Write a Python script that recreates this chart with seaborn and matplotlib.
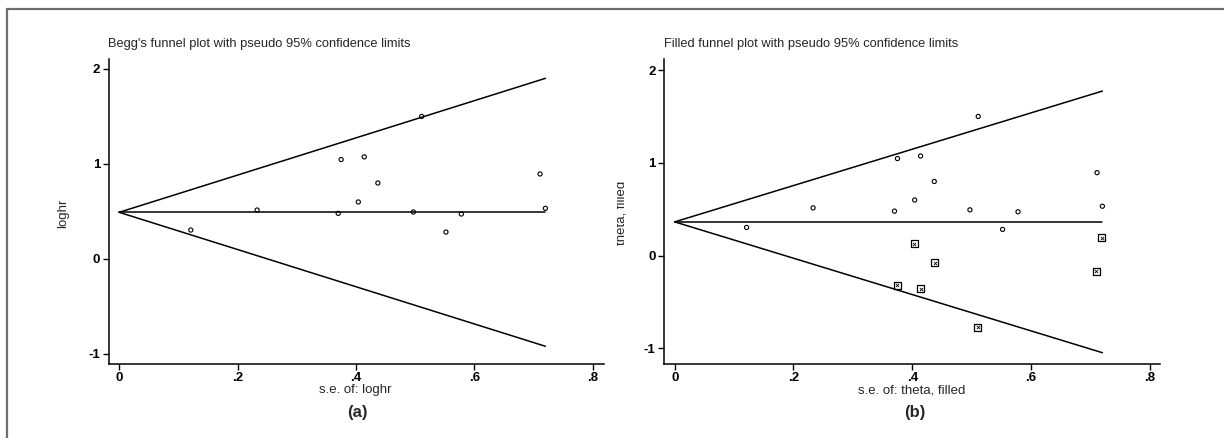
import numpy as np
import pandas as pd
import matplotlib
matplotlib.use("Agg")
import matplotlib.pyplot as plt
import seaborn as sns
from matplotlib.lines import Line2D
from matplotlib.transforms import Bbox, TransformedBbox

# --- data ---
se = [0.121, 0.233, 0.370, 0.375, 0.404, 0.414, 0.437, 0.497, 0.511, 0.552, 0.578, 0.711, 0.720]
loghr = [0.303, 0.514, 0.479, 1.046, 0.599, 1.074, 0.799, 0.493, 1.500, 0.282, 0.472, 0.894, 0.532]

# trim-and-fill imputed studies (panel b)
filled_se = [0.403, 0.438, 0.375, 0.414, 0.510, 0.710, 0.719]
filled_theta = [0.126, -0.079, -0.320, -0.356, -0.773, -0.169, 0.194]

pooled_a = 0.49
pooled_b = 0.363
se_range = [0.0, 0.72]

xticks = [0, 0.2, 0.4, 0.6, 0.8]
xtick_labels = ["0", ".2", ".4", ".6", ".8"]
yticks = [-1, 0, 1, 2]
ytick_labels = ["-1", "0", "1", "2"]

sns.set_style("ticks")
plt.rcParams['font.family'] = ['Liberation Sans', 'DejaVu Sans']

W, H = 1224, 438
fig = plt.figure(figsize=(W / 100, H / 100), dpi=100)


def px_box(x0, x1, ytop, ybot):
    return [x0 / W, (H - ybot) / H, (x1 - x0) / W, (ybot - ytop) / H]


def funnel(ax, pooled):
    lines = pd.DataFrame({
        "se": se_range * 3,
        "y": [pooled + 1.96 * s for s in se_range] + [pooled] * 2 + [pooled - 1.96 * s for s in se_range],
        "grp": ["up", "up", "mid", "mid", "lo", "lo"],
    })
    sns.lineplot(data=lines, x="se", y="y", units="grp", estimator=None,
                 color="black", linewidth=1.1, ax=ax)


def style_axes(ax, xlim, ylim):
    ax.set_xlim(*xlim)
    ax.set_ylim(*ylim)
    ax.set_xticks(xticks)
    ax.set_xticklabels(xtick_labels)
    ax.set_yticks(yticks)
    ax.set_yticklabels(ytick_labels)
    ax.tick_params(direction="out", length=4.5, width=1, labelsize=9.5, pad=1.5, colors="black")
    for lab in ax.get_xticklabels() + ax.get_yticklabels():
        lab.set_fontweight("bold")
    sns.despine(ax=ax)
    for sp in ["left", "bottom"]:
        ax.spines[sp].set_linewidth(1.1)
        ax.spines[sp].set_color("black")


# --- panel (a) ---
ax1 = fig.add_axes(px_box(108.5, 604, 59, 364))
funnel(ax1, pooled_a)
pts = pd.DataFrame({"se": se, "loghr": loghr})
sns.scatterplot(data=pts, x="se", y="loghr", marker="o", s=9, facecolor="none",
                edgecolor="black", linewidth=0.8, ax=ax1)
style_axes(ax1, (-0.018, 0.819), (-1.108, 2.105))
ax1.set_xlabel("s.e. of: loghr", fontsize=9.5)
ax1.set_ylabel("loghr", fontsize=9.5)
ax1.xaxis.set_label_coords(0.497, -0.086)
ax1.xaxis.label.set_va("center")
ax1.yaxis.set_label_coords((63 - 108.5) / 495.5, (364 - 213) / 305)
ax1.yaxis.label.set_va("center")
fig.text(108 / W, 1 - 44 / H, "Begg's funnel plot with pseudo 95% confidence limits",
         fontsize=9.3, ha="left", va="center")
fig.text(357 / W, 1 - 413 / H, "(a)", fontsize=12, fontweight="bold", ha="center", va="center")

# --- panel (b) ---
ax2 = fig.add_axes(px_box(664, 1160, 59, 364))
funnel(ax2, pooled_b)
sns.scatterplot(data=pts, x="se", y="loghr", marker="o", s=9, facecolor="none",
                edgecolor="black", linewidth=0.8, ax=ax2)
filled = pd.DataFrame({"se": filled_se, "theta": filled_theta})
sns.scatterplot(data=filled, x="se", y="theta", marker="s", s=26, facecolor="none",
                edgecolor="black", linewidth=0.9, ax=ax2)
sns.scatterplot(data=filled, x="se", y="theta", marker="x", s=5,
                color="black", linewidth=0.6, ax=ax2)
style_axes(ax2, (-0.018, 0.817), (-1.17, 2.12))
ax2.set_xlabel("s.e. of: theta, filled", fontsize=9.5)
ax2.set_ylabel("")
ax2.xaxis.set_label_coords((912 - 664) / 496, -0.086)
ax2.xaxis.label.set_va("center")
fig.text(664 / W, 1 - 44 / H, "Filled funnel plot with pseudo 95% confidence limits",
         fontsize=9.25, ha="left", va="center")
fig.text(915 / W, 1 - 413 / H, "(b)", fontsize=12, fontweight="bold", ha="center", va="center")

# y label of panel b is cut off by the panel border in the original
yl = fig.text(621 / W, 1 - 213 / H, "theta, filled", fontsize=9.5, rotation=90,
              ha="center", va="center")
clip = TransformedBbox(Bbox([[617 / W, 0], [1, 1]]), fig.transFigure)
yl.set_clip_box(clip)
yl.set_clip_on(True)

# grey frame on top and left
fig.add_artist(Line2D([7 / W, 7 / W], [0, 1 - 9 / H], transform=fig.transFigure,
                      color="#6e6e6e", linewidth=1.6))
fig.add_artist(Line2D([7 / W, 1], [1 - 9 / H, 1 - 9 / H], transform=fig.transFigure,
                      color="#6e6e6e", linewidth=1.6))

fig.savefig("out.png", dpi=100)
